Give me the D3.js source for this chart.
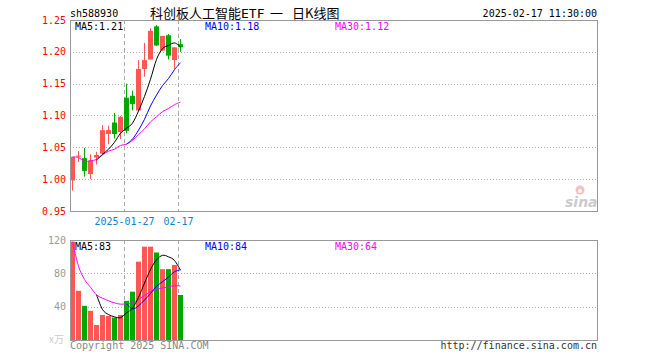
<!DOCTYPE html>
<html lang="zh">
<head>
    <meta charset="utf-8">
    <title>科创板人工智能ETF 日K线图</title>
    <script src="https://cdnjs.cloudflare.com/ajax/libs/d3/7.8.5/d3.min.js"></script>
    <style>
        body { margin: 0; background: #fff; }
        svg { display: block; }
        text { font-family: "DejaVu Sans Mono", monospace; font-size: 10px; }
    </style>
</head>
<body>
    <svg width="660" height="360"></svg>

    <script>
        // trading days shown
        const dates = ["2025-01-14", "2025-01-15", "2025-01-16", "2025-01-17", "2025-01-20",
                       "2025-01-21", "2025-01-22", "2025-01-23", "2025-01-24", "2025-01-27",
                       "2025-02-05", "2025-02-06", "2025-02-07", "2025-02-10", "2025-02-11",
                       "2025-02-12", "2025-02-13", "2025-02-14", "2025-02-17"];

        const open  = [0.998, 1.036, 1.033, 1.008, 1.034, 1.040, 1.071, 1.089, 1.074, 1.128,
                       1.131, 1.108, 1.173, 1.188, 1.240, 1.202, 1.226, 1.187, 1.212];
        const high  = [1.035, 1.044, 1.049, 1.039, 1.043, 1.085, 1.084, 1.104, 1.099, 1.150,
                       1.139, 1.187, 1.214, 1.237, 1.242, 1.225, 1.228, 1.207, 1.220];
        const low   = [0.982, 1.027, 1.004, 1.000, 1.023, 1.039, 1.055, 1.064, 1.063, 1.072,
                       1.108, 1.107, 1.161, 1.188, 1.209, 1.202, 1.188, 1.173, 1.200];
        const close = [1.035, 1.037, 1.013, 1.029, 1.038, 1.077, 1.077, 1.071, 1.098, 1.076,
                       1.118, 1.173, 1.187, 1.233, 1.210, 1.225, 1.194, 1.207, 1.207];

        const ma5  = [null, null, null, null, 1.030, 1.039, 1.047, 1.058, 1.072, 1.080,
                      1.088, 1.107, 1.130, 1.157, 1.188, 1.205, 1.210, 1.214, 1.208];
        const ma10 = [null, null, null, null, null, null, null, null, null, 1.055,
                      1.063, 1.077, 1.094, 1.115, 1.132, 1.147, 1.158, 1.172, 1.183];
        const ma30 = [1.035, 1.034, 1.028, 1.029, 1.031, 1.038, 1.044, 1.047, 1.053, 1.055,
                      1.061, 1.070, 1.079, 1.090, 1.098, 1.106, 1.111, 1.117, 1.121];

        // volume, 万手
        const volume   = [118, 59, 41, 35, 18, 30, 29, 27, 30, 47, 58, 94, 112, 112, 105, 85, 85, 90, 54];
        const volMa5   = [null, null, null, null, 54.2, 36.6, 30.6, 27.8, 26.8, 32.6,
                          38.2, 51.2, 68.2, 84.6, 96.2, 101.6, 99.8, 95.4, 83.8];
        const volMa10  = [null, null, null, null, null, null, null, null, null, 43.4,
                          37.4, 40.9, 48.0, 55.7, 64.4, 69.9, 75.5, 81.8, 84.2];
        const volMa30  = [118, 88.5, 72.7, 63.3, 54.2, 50.2, 47.1, 44.6, 43.0, 43.4,
                          44.7, 48.8, 53.6, 57.8, 60.9, 62.4, 63.8, 65.3, 64.7];

        const priceTicks = [0.95, 1.00, 1.05, 1.10, 1.15, 1.20, 1.25];
        const volTicks = [40, 80, 120];
        const markDates = ["2025-01-27", "2025-02-17"];
        const markLabels = ["2025-01-27", "02-17"];

        const RED = "#ff5555", GREEN = "#00a800";

        const svg = d3.select("svg");
        const left = 70, right = 597;
        const pTop = 20, pBottom = 211, vTop = 240, vBottom = 340;

        const x = d3.scaleBand()
            .domain(dates)
            .range([left, left + 6 * dates.length])
            .padding(0);
        const barW = x.step() - 1;
        const cx = d => x(d) + barW / 2;

        const y = d3.scaleLinear().domain([0.95, 1.25]).range([pBottom, pTop]);
        const yv = d3.scaleLinear().domain([0, 120]).range([vBottom, vTop]);

        const up = i => close[i] >= open[i];

        // header
        svg.append("text").attr("x", 70).attr("y", 17).text("sh588930");
        const title = svg.append("text").attr("y", 18)
            .style("font-family", "'Noto Sans CJK SC', sans-serif")
            .style("font-size", "13px");
        title.append("tspan").attr("x", 150).text("科创板人工智能");
        title.append("tspan").attr("x", 241)
            .style("font-family", "'DejaVu Sans Mono', monospace").text("ETF");
        title.append("tspan").attr("x", 270).text("一");
        title.append("tspan").attr("x", 292).text("日K线图");
        svg.append("text").attr("x", 597).attr("y", 17)
            .attr("text-anchor", "end").text("2025-02-17 11:30:00");

        // ---------- price panel ----------
        const gP = svg.append("g");

        gP.selectAll(".hgrid")
            .data(priceTicks.filter(t => t > 0.96 && t < 1.24))
            .enter().append("line")
            .attr("x1", left).attr("x2", right)
            .attr("y1", d => Math.round(y(d)) + 0.5).attr("y2", d => Math.round(y(d)) + 0.5)
            .attr("stroke", "#aaa").attr("stroke-dasharray", "1,2");

        gP.selectAll(".plabel")
            .data(priceTicks)
            .enter().append("text")
            .attr("x", 66).attr("y", d => y(d))
            .attr("dy", "0.35em").attr("text-anchor", "end")
            .attr("fill", "#ff0000")
            .text(d => d.toFixed(2));

        // sina logo
        const logo = gP.append("g").attr("opacity", 0.5);
        logo.append("circle").attr("cx", 580).attr("cy", 190).attr("r", 4.5).attr("fill", "#f08080");
        logo.append("circle").attr("cx", 580).attr("cy", 191).attr("r", 2).attr("fill", "#fff");
        logo.append("text").attr("x", 565).attr("y", 207)
            .style("font-family", "'DejaVu Sans', sans-serif")
            .style("font-size", "14px").style("font-style", "italic").style("font-weight", "bold")
            .attr("fill", "#999").text("sina");

        function vdash(g, y0, y1) {
            g.selectAll(null)
                .data(markDates)
                .enter().append("line")
                .attr("x1", d => x(d) + 0.5).attr("x2", d => x(d) + 0.5)
                .attr("y1", y0).attr("y2", y1)
                .attr("stroke", "#aaa").attr("stroke-dasharray", "4,3");
        }
        vdash(gP, pTop, pBottom);

        // candles
        const candle = gP.selectAll(".candle")
            .data(dates)
            .enter().append("g");

        candle.append("line")
            .attr("x1", d => cx(d)).attr("x2", d => cx(d))
            .attr("y1", (d, i) => y(high[i])).attr("y2", (d, i) => y(low[i]))
            .attr("stroke", (d, i) => up(i) ? RED : GREEN);

        candle.append("rect")
            .attr("x", d => x(d))
            .attr("width", barW)
            .attr("y", (d, i) => y(Math.max(open[i], close[i])))
            .attr("height", (d, i) => Math.max(1, Math.abs(y(open[i]) - y(close[i]))))
            .attr("fill", (d, i) => up(i) ? RED : GREEN);

        const maLine = (scale) => d3.line()
            .defined(d => d[1] != null)
            .x(d => cx(d[0]))
            .y(d => scale(d[1]))
            .curve(d3.curveCardinal);

        [[ma30, "#ff00ff"], [ma10, "#0000ff"], [ma5, "#000"]].forEach(([arr, col]) => {
            gP.append("path")
                .datum(dates.map((d, i) => [d, arr[i]]))
                .attr("d", maLine(y))
                .attr("fill", "none").attr("stroke", col).attr("stroke-width", 1);
        });

        gP.append("rect")
            .attr("x", left + 0.5).attr("y", pTop + 0.5)
            .attr("width", right - left).attr("height", pBottom - pTop)
            .attr("fill", "none").attr("stroke", "#999");

        const last = dates.length - 1;
        gP.append("text").attr("x", 75).attr("y", 30).attr("fill", "#000")
            .text("MA5:" + ma5[last].toFixed(2));
        gP.append("text").attr("x", 205).attr("y", 30).attr("fill", "#0000ff")
            .text("MA10:" + ma10[last].toFixed(2));
        gP.append("text").attr("x", 335).attr("y", 30).attr("fill", "#ff00ff")
            .text("MA30:" + ma30[last].toFixed(2));

        // date marks
        svg.selectAll(".dlabel")
            .data(markDates)
            .enter().append("text")
            .attr("x", d => x(d) + 0.5).attr("y", 225)
            .attr("text-anchor", "middle").attr("fill", "#0a84d0")
            .text((d, i) => markLabels[i]);

        // ---------- volume panel ----------
        const gV = svg.append("g");

        gV.selectAll(".vgrid")
            .data(volTicks.filter(t => t < 120))
            .enter().append("line")
            .attr("x1", left).attr("x2", right)
            .attr("y1", d => Math.round(yv(d)) + 0.5).attr("y2", d => Math.round(yv(d)) + 0.5)
            .attr("stroke", "#aaa").attr("stroke-dasharray", "1,2");

        gV.selectAll(".vlabel")
            .data(volTicks)
            .enter().append("text")
            .attr("x", 66).attr("y", d => yv(d))
            .attr("dy", "0.35em").attr("text-anchor", "end")
            .attr("fill", "#999")
            .text(d => d);
        gV.append("text").attr("x", 64).attr("y", vBottom - 1).attr("dy", "0.35em")
            .attr("text-anchor", "end").attr("fill", "#ccc")
            .style("font-family", "'Noto Sans CJK SC', sans-serif")
            .text("x万");

        vdash(gV, vTop, vBottom);

        gV.selectAll(".vbar")
            .data(dates)
            .enter().append("rect")
            .attr("x", d => x(d))
            .attr("width", barW)
            .attr("y", (d, i) => yv(volume[i]))
            .attr("height", (d, i) => vBottom - yv(volume[i]))
            .attr("fill", (d, i) => up(i) ? RED : GREEN);

        [[volMa30, "#ff00ff"], [volMa10, "#0000ff"], [volMa5, "#000"]].forEach(([arr, col]) => {
            gV.append("path")
                .datum(dates.map((d, i) => [d, arr[i]]))
                .attr("d", maLine(yv))
                .attr("fill", "none").attr("stroke", col).attr("stroke-width", 1);
        });

        gV.append("rect")
            .attr("x", left + 0.5).attr("y", vTop + 0.5)
            .attr("width", right - left).attr("height", vBottom - vTop)
            .attr("fill", "none").attr("stroke", "#999");

        gV.append("text").attr("x", 75).attr("y", 250).attr("fill", "#000")
            .text("MA5:" + Math.floor(volMa5[last]));
        gV.append("text").attr("x", 205).attr("y", 250).attr("fill", "#0000ff")
            .text("MA10:" + Math.floor(volMa10[last]));
        gV.append("text").attr("x", 335).attr("y", 250).attr("fill", "#ff00ff")
            .text("MA30:" + Math.floor(volMa30[last]));

        // footer
        svg.append("text").attr("x", 70).attr("y", 349).attr("fill", "#888")
            .text("Copyright 2025 SINA.COM");
        svg.append("text").attr("x", 597).attr("y", 349).attr("text-anchor", "end")
            .attr("fill", "#333").text("http://finance.sina.com.cn");
    </script>
</body>
</html>
